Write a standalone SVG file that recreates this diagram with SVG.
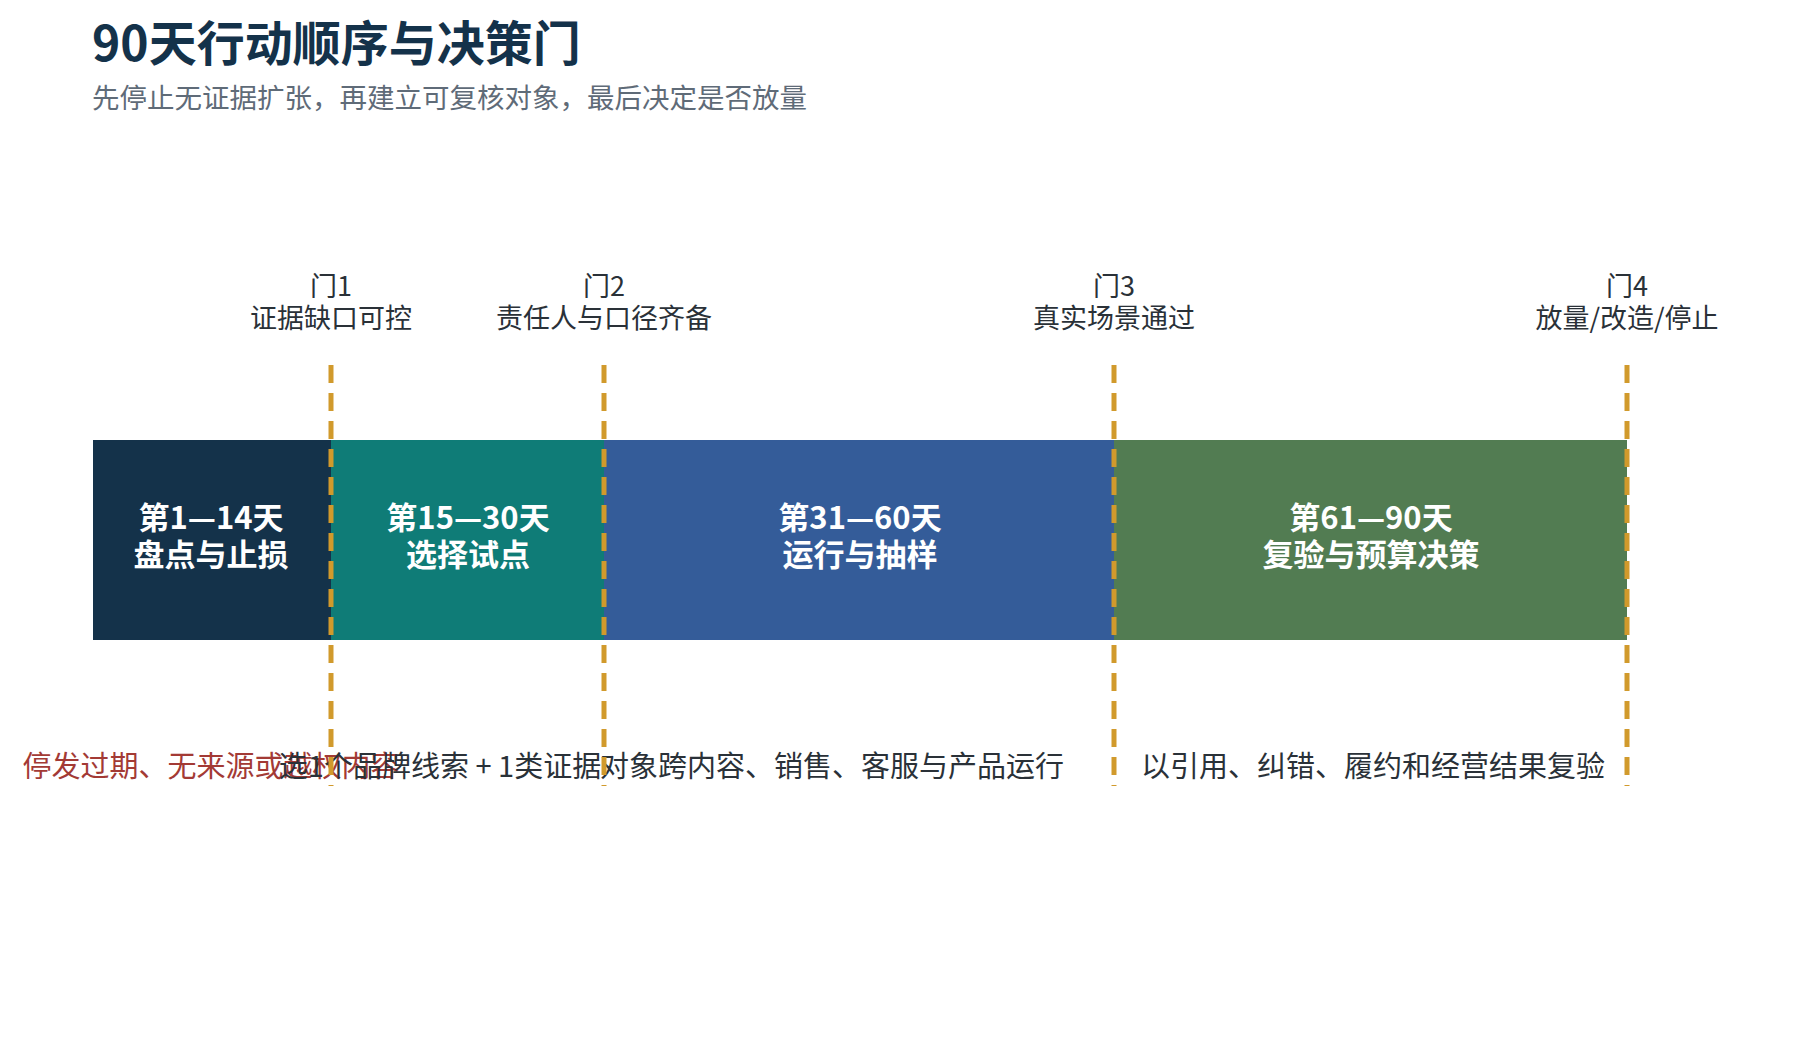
<svg xmlns="http://www.w3.org/2000/svg" width="1818" height="1062" viewBox="0 0 1818 1062">
<style>
text{font-family:"Noto Sans CJK SC","Noto Sans",sans-serif}
.t{font-size:48px;font-weight:bold;fill:#14324a}
.s{font-size:27.5px;fill:#5f6b78}
.g{font-size:27px;fill:#2a3138;text-anchor:middle}
.p{font-size:31px;font-weight:bold;fill:#fff;text-anchor:middle}
.b{font-size:29px;fill:#2a3138;text-anchor:middle}
.gate{stroke:#d19a2c;stroke-width:5;stroke-dasharray:18 10;fill:none}
</style>
<rect width="1818" height="1062" fill="#fff"/>
<text class="t" x="92" y="61">90天行动顺序与决策门</text>
<text class="s" x="92" y="108">先停止无证据扩张，再建立可复核对象，最后决定是否放量</text>
<g id="phase1"><rect x="93" y="440" width="238" height="200" fill="#14324a"/><text class="p" x="211" y="529">第1—14天</text><text class="p" x="211" y="566">盘点与止损</text><text class="b" x="211" y="777" style="fill:#a33a35">停发过期、无来源或越权内容</text></g>
<g id="phase2"><rect x="331" y="440" width="273" height="200" fill="#0f7c77"/><text class="p" x="468" y="529">第15—30天</text><text class="p" x="468" y="566">选择试点</text><text class="b" x="440" y="777">选1个品牌线索 + 1类证据</text></g>
<g id="phase3"><rect x="604" y="440" width="510" height="200" fill="#345c99"/><text class="p" x="860" y="529">第31—60天</text><text class="p" x="860" y="566">运行与抽样</text><text class="b" x="832" y="777">对象跨内容、销售、客服与产品运行</text></g>
<g id="phase4"><rect x="1114" y="440" width="513" height="200" fill="#527c52"/><text class="p" x="1371" y="529">第61—90天</text><text class="p" x="1371" y="566">复验与预算决策</text><text class="b" x="1373" y="777">以引用、纠错、履约和经营结果复验</text></g>
<g id="connectors">
<line class="gate" x1="331" y1="365" x2="331" y2="786"/>
<line class="gate" x1="604" y1="365" x2="604" y2="786"/>
<line class="gate" x1="1114" y1="365" x2="1114" y2="786"/>
<line class="gate" x1="1627" y1="365" x2="1627" y2="786"/>
</g>
<g id="gate1"><text class="g" x="331" y="296">门1</text><text class="g" x="331" y="328">证据缺口可控</text></g>
<g id="gate2"><text class="g" x="604" y="296">门2</text><text class="g" x="604" y="328">责任人与口径齐备</text></g>
<g id="gate3"><text class="g" x="1114" y="296">门3</text><text class="g" x="1114" y="328">真实场景通过</text></g>
<g id="gate4"><text class="g" x="1627" y="296">门4</text><text class="g" x="1627" y="328">放量/改造/停止</text></g>
</svg>
